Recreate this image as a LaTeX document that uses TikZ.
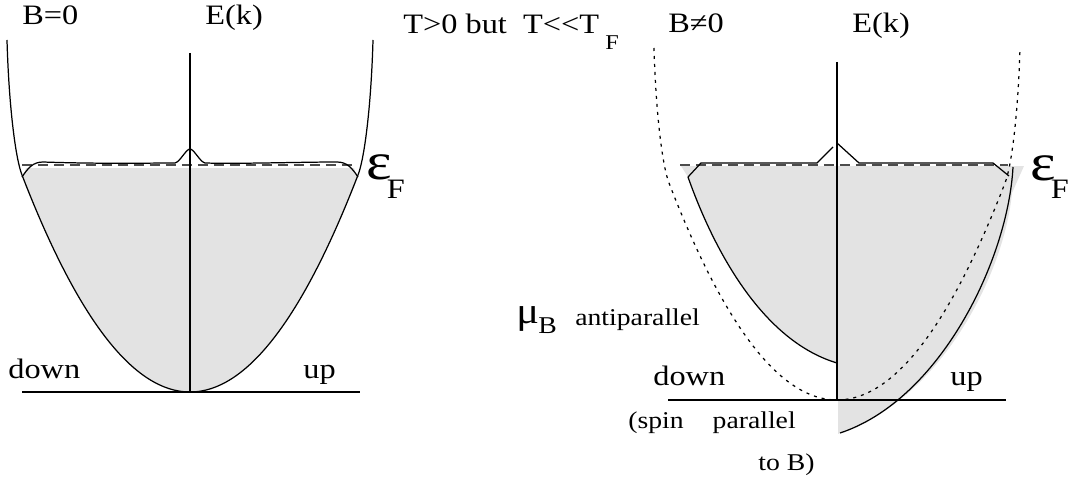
\documentclass[tikz,border=0pt]{standalone}
\usepackage{fontspec}
\setmainfont{Liberation Serif}[FakeStretch=1.15]
\usepackage{tikz}

\begin{document}
\begin{tikzpicture}[
    x=0.02cm, y=-0.02cm,
    band/.style={line width=0.7pt},
    freeband/.style={line width=0.7pt, dash pattern=on 0.06cm off 0.1cm},
    filled/.style={fill=black!11, draw=none},
    fermi/.style={line width=1pt, black!70, dash pattern=on 0.2cm off 0.12cm},
    lbl/.style={anchor=base west, inner sep=0pt, font=\fontsize{16pt}{19pt}\selectfont},
    sublbl/.style={lbl, font=\fontsize{13.7pt}{16pt}\selectfont},
    tinysub/.style={lbl, font=\fontsize{12pt}{14pt}\selectfont},
    greek/.style={lbl, font=\fontsize{30pt}{34pt}\selectfont},
    mugreek/.style={lbl, font=\fontsize{21pt}{25pt}\selectfont},
]
\useasboundingbox (0,0) rectangle (1071,483);

% Left panel: B=0
\fill[filled] (26,168) -- (354,168) -- (357,177) .. controls (302,320) and (246,392) .. (190,392)
    .. controls (134,392) and (78,320) .. (23,177) -- cycle;
\draw[fermi] (22,165) -- (357,165);
\draw[band] (7,40) .. controls (9,110) and (16,160) .. (22,175)
    .. controls (78,320) and (134,392) .. (190,392)
    .. controls (246,392) and (302,320) .. (358,175)
    .. controls (364,160) and (371,110) .. (373,40);
\draw[band] (190,53) -- (190,392);
\draw[band] (22,392) -- (360,392);
\draw[band] (22,177) .. controls (28,168) and (33,162) .. (43,162)
    .. controls (100,164) and (150,163) .. (175,163)
    .. controls (180,162) and (186,149) .. (190,149)
    .. controls (194,149) and (200,162) .. (205,163)
    .. controls (240,164) and (300,162) .. (337,162)
    .. controls (347,162) and (352,168) .. (358,177);

% Right panel: B not 0
\fill[filled] (681,166) -- (1024,166) -- (1012,193) .. controls (1004,275) and (940,400) .. (840,433)
    -- (838,434) -- (838,363) .. controls (760,340) and (712,245) .. (688,177) -- cycle;
\draw[fermi] (680,165) -- (1008,165);
\draw[freeband] (654,48) .. controls (656,118) and (663,168) .. (669,183)
    .. controls (725,328) and (781,400) .. (837,400)
    .. controls (893,400) and (949,328) .. (1005,183)
    .. controls (1011,168) and (1018,118) .. (1020,48);
\draw[band] (688,177) .. controls (712,245) and (760,340) .. (837,363);
\draw[band] (1013,167) .. controls (1008,260) and (940,400) .. (840,433);
\draw[band] (837,62) -- (837,400);
\draw[band] (668,400) -- (1006,400);
\draw[band] (688,177) -- (701,163) -- (817,163) -- (833,147);
\draw[band] (837,143) -- (859,163) -- (993,163) -- (1009,176);

% Labels
\node[lbl] (bzero) at (22,25) {B=0};
\node[lbl] (ekL) at (205,25) {E(k)};
\node[lbl] (temp) at (403,34) {T>0 but~~T<\kern0pt<T};
\node[tinysub] (tempF) at (605,50) {F};
\node[lbl] (bnonzero) at (668,33) {B≠0};
\node[lbl] (ekR) at (852,33) {E(k)};
\node[greek] (epsL) at (366,179) {ε\kern-0.1cm\raisebox{-0.4cm}{\fontsize{16pt}{19pt}\selectfont F}};
\node[greek] (epsR) at (1030,180) {ε\kern-0.1cm\raisebox{-0.38cm}{\fontsize{16pt}{19pt}\selectfont F}};
\node[lbl] (downL) at (8,378) {down};
\node[lbl] (upL) at (303,378) {up};
\node[lbl] (downR) at (653,385) {down};
\node[lbl] (upR) at (950,385) {up};
\node[mugreek] (mu) at (516,323) {μ};
\node[sublbl] (muB) at (538,333) {B};
\node[sublbl] (anti) at (575,325) {antiparallel};
\node[sublbl] (spin) at (628,428) {(spin\hspace{0.58cm}parallel};
\node[sublbl] (toB) at (758,470) {to B)};

\end{tikzpicture}
\end{document}
